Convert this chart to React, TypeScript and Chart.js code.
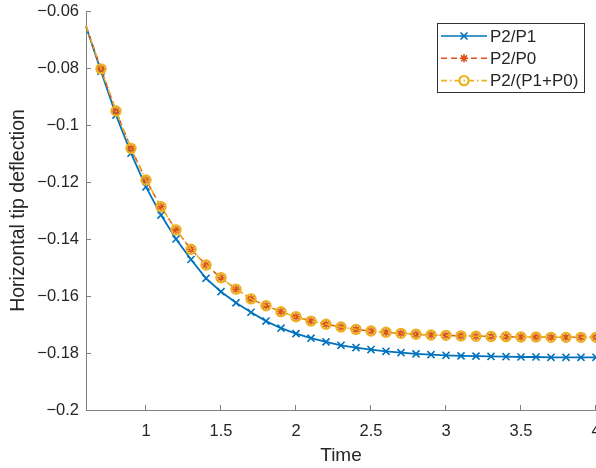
import React, { useEffect, useRef } from 'react';
import { Chart, registerables } from 'chart.js';

Chart.register(...registerables);

const times = [0.6, 0.7, 0.8, 0.9, 1.0, 1.1, 1.2, 1.3, 1.4, 1.5, 1.6, 1.7, 1.8, 1.9, 2.0, 2.1, 2.2, 2.3, 2.4, 2.5, 2.6, 2.7, 2.8, 2.9, 3.0, 3.1, 3.2, 3.3, 3.4, 3.5, 3.6, 3.7, 3.8, 3.9, 4.0];

const p2p1 = [-0.0654, -0.0811, -0.0965, -0.1099, -0.1217, -0.1316, -0.1400, -0.1472, -0.1538, -0.1585, -0.1624, -0.1657, -0.1688, -0.1713, -0.1732, -0.1748, -0.1761, -0.1773, -0.1781, -0.1788, -0.1794, -0.1799, -0.1803, -0.1806, -0.1808, -0.1810, -0.1811, -0.1812, -0.1813, -0.1814, -0.1814, -0.1815, -0.1815, -0.1815, -0.1815];

const p2p0 = [-0.0652, -0.0803, -0.0951, -0.1082, -0.1193, -0.1287, -0.1368, -0.1436, -0.1491, -0.1536, -0.1576, -0.1610, -0.1634, -0.1655, -0.1673, -0.1688, -0.1699, -0.1709, -0.1717, -0.1723, -0.1727, -0.1731, -0.1734, -0.1737, -0.1738, -0.1740, -0.1741, -0.1742, -0.1743, -0.1744, -0.1744, -0.1745, -0.1745, -0.1745, -0.1745];

const p2p1p0 = [-0.0652, -0.0803, -0.0951, -0.1082, -0.1193, -0.1287, -0.1368, -0.1436, -0.1491, -0.1536, -0.1576, -0.1610, -0.1634, -0.1655, -0.1673, -0.1688, -0.1699, -0.1709, -0.1717, -0.1723, -0.1727, -0.1731, -0.1734, -0.1737, -0.1738, -0.1740, -0.1741, -0.1742, -0.1743, -0.1744, -0.1744, -0.1745, -0.1745, -0.1745, -0.1745];

const xTicks = [1, 1.5, 2, 2.5, 3, 3.5, 4];
const yTicks = [-0.2, -0.18, -0.16, -0.14, -0.12, -0.1, -0.08, -0.06];

const seriesNames = ['P2/P1', 'P2/P0', 'P2/(P1+P0)'];
const seriesColors = ['#0072BD', '#D95319', '#EDB120'];
const seriesDash = [[], [6, 4], [6, 3, 1.5, 3]];
const seriesMarker = ['crossRot', 'star', 'circle'];
const seriesMarkerRadius = [5, 4.2, 4.6];
const seriesMarkerWidth = [1.6, 1.6, 2.2];

const FONT = "'Liberation Sans', Arial, Helvetica, sans-serif";
const TEXT = '#262626';
const AXIS = '#808080';

function drawMarker(ctx: CanvasRenderingContext2D, style: string, x: number, y: number, r: number) {
  ctx.beginPath();
  if (style === 'circle') {
    ctx.arc(x, y, r, 0, Math.PI * 2);
  } else {
    const d = Math.SQRT1_2 * r;
    ctx.moveTo(x - d, y - d); ctx.lineTo(x + d, y + d);
    ctx.moveTo(x - d, y + d); ctx.lineTo(x + d, y - d);
    if (style === 'star') {
      ctx.moveTo(x, y - r); ctx.lineTo(x, y + r);
      ctx.moveTo(x - r, y); ctx.lineTo(x + r, y);
    }
  }
  ctx.stroke();
}

const inwardTicks = {
  id: 'inwardTicks',
  afterDatasetsDraw(chart: any) {
    const { ctx, chartArea, scales } = chart;
    const x = scales.x, y = scales.y;
    ctx.save();
    ctx.strokeStyle = AXIS;
    ctx.lineWidth = 1;
    ctx.beginPath();
    for (const v of xTicks) {
      const px = Math.round(x.getPixelForValue(v)) - 0.5;
      ctx.moveTo(px, chartArea.bottom);
      ctx.lineTo(px, chartArea.bottom - 5);
    }
    for (const v of yTicks) {
      const py = Math.round(y.getPixelForValue(v)) + 0.5;
      ctx.moveTo(chartArea.left, py);
      ctx.lineTo(chartArea.left + 5, py);
    }
    ctx.stroke();
    ctx.restore();
  },
};

const matlabLegend = {
  id: 'matlabLegend',
  afterDraw(chart: any) {
    const { ctx, chartArea } = chart;
    const w = 147, h = 69;
    const right = chartArea.right - 12;
    const top = chartArea.top + 12;
    const left = right - w;
    ctx.save();
    ctx.fillStyle = '#ffffff';
    ctx.fillRect(left, top, w, h);
    ctx.strokeStyle = '#333333';
    ctx.lineWidth = 1;
    ctx.strokeRect(Math.round(left) + 0.5, Math.round(top) + 0.5, w, h);
    ctx.font = `17px ${FONT}`;
    ctx.textBaseline = 'middle';
    ctx.textAlign = 'left';
    for (let i = 0; i < seriesNames.length; i++) {
      const cy = top + 13 + i * 22.3;
      const x0 = left + 4, x1 = left + 50;
      ctx.strokeStyle = seriesColors[i];
      ctx.lineWidth = 1.6;
      ctx.setLineDash(seriesDash[i]);
      ctx.beginPath();
      ctx.moveTo(x0, cy);
      ctx.lineTo(x1, cy);
      ctx.stroke();
      ctx.setLineDash([]);
      ctx.lineWidth = seriesMarkerWidth[i];
      drawMarker(ctx, seriesMarker[i], (x0 + x1) / 2, cy, seriesMarkerRadius[i]);
      ctx.fillStyle = TEXT;
      ctx.fillText(seriesNames[i], x1 + 3, cy + 1);
    }
    ctx.restore();
  },
};

export default function App() {
  const ref = useRef<HTMLCanvasElement | null>(null);

  useEffect(() => {
    if (!ref.current) return;
    Chart.defaults.font.family = FONT;
    const seriesData = [p2p1, p2p0, p2p1p0];
    const datasets = seriesData.map((vals, i) => ({
      label: seriesNames[i],
      data: vals.map((v, j) => ({ x: times[j], y: v })),
      borderColor: seriesColors[i],
      backgroundColor: 'rgba(0,0,0,0)',
      borderWidth: i === 0 ? 1.8 : 1.5,
      borderDash: seriesDash[i],
      pointStyle: seriesMarker[i],
      pointRadius: (c: any) => (c.dataIndex === 0 ? 0 : seriesMarkerRadius[i]),
      pointBorderWidth: seriesMarkerWidth[i],
      pointBorderColor: seriesColors[i],
      pointBackgroundColor: 'rgba(0,0,0,0)',
      tension: 0,
      order: 3 - i,
      clip: false as any,
    }));

    const chart = new Chart(ref.current, {
      type: 'line',
      data: { datasets },
      plugins: [inwardTicks, matlabLegend],
      options: {
        animation: false,
        responsive: false,
        devicePixelRatio: 1,
        layout: { padding: { top: 11, right: 24, left: 0, bottom: 0 } },
        plugins: { legend: { display: false }, tooltip: { enabled: false } },
        scales: {
          x: {
            type: 'linear',
            min: 0.6,
            max: 4,
            afterBuildTicks: (s: any) => { s.ticks = xTicks.map((v) => ({ value: v })); },
            afterFit: (s: any) => { s.height = 58; s.paddingLeft = 0; s.paddingRight = 0; },
            grid: { display: false, drawTicks: false },
            border: { display: true, color: AXIS, width: 1 },
            ticks: {
              color: TEXT,
              font: { size: 16.5, family: FONT },
              padding: 12,
              maxRotation: 0,
              autoSkip: false,
              callback: (v: any) => String(v),
            },
            title: {
              display: true,
              text: 'Time',
              color: TEXT,
              font: { size: 19, family: FONT },
              padding: { top: 0, bottom: 1 },
            },
          },
          y: {
            type: 'linear',
            min: -0.2,
            max: -0.06,
            afterBuildTicks: (s: any) => { s.ticks = yTicks.map((v) => ({ value: v })); },
            afterFit: (s: any) => { s.width = 86; s.paddingTop = 0; s.paddingBottom = 0; },
            grid: { display: false, drawTicks: false },
            border: { display: true, color: AXIS, width: 1 },
            ticks: {
              color: TEXT,
              font: { size: 16.5, family: FONT },
              padding: 7,
              autoSkip: false,
              callback: (v: any) => String(Number(Number(v).toFixed(2))).replace('-', '\u2212'),
            },
            title: {
              display: true,
              text: 'Horizontal tip deflection',
              color: TEXT,
              font: { size: 19.5, family: FONT },
              padding: { top: 7, bottom: 0 },
            },
          },
        },
      },
    });
    return () => chart.destroy();
  }, []);

  return (
    <div style={{ position: 'absolute', left: 0, top: 0, width: 596, height: 468, overflow: 'hidden', background: '#fff' }}>
      <canvas ref={ref} width={620} height={468} style={{ display: 'block', width: 620, height: 468 }} />
    </div>
  );
}
